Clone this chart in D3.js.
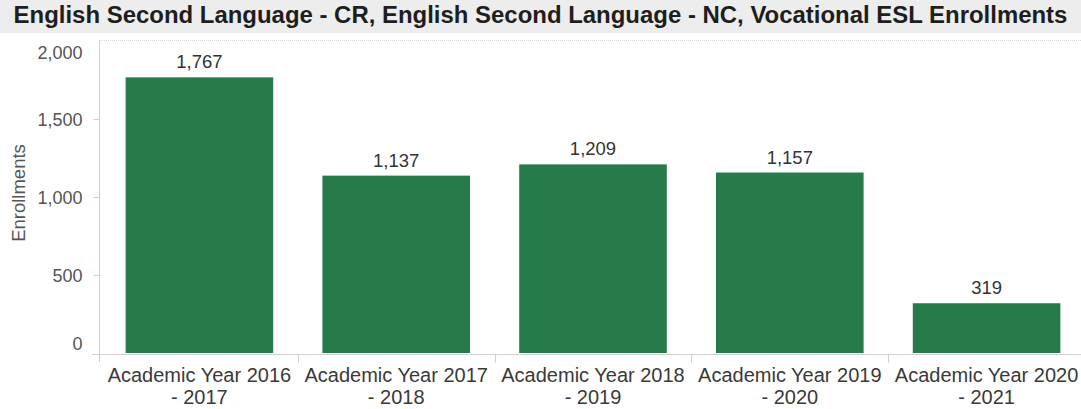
<!DOCTYPE html>
<html>
<head>
<meta charset="utf-8">
<script src="https://cdn.jsdelivr.net/npm/d3@7"></script>
<style>
  html, body { margin: 0; padding: 0; background: #fff; }
  svg { display: block; font-family: "Liberation Sans", Arial, sans-serif; }
</style>
</head>
<body>
<svg id="chart" width="1081" height="409"></svg>
<script>
// Enrollments per academic year
const chartTitle = "English Second Language - CR, English Second Language - NC, Vocational ESL Enrollments";
const years = [
  "Academic Year 2016 - 2017",
  "Academic Year 2017 - 2018",
  "Academic Year 2018 - 2019",
  "Academic Year 2019 - 2020",
  "Academic Year 2020 - 2021"
];
const enrollments = [1767, 1137, 1209, 1157, 319];
const yTicks = [0, 500, 1000, 1500, 2000];
const yAxisTitle = "Enrollments";

const W = 1081, H = 409;
const svg = d3.select("#chart");

// title band
svg.append("rect")
  .attr("x", 0).attr("y", 0).attr("width", W).attr("height", 33)
  .attr("fill", "#ededed");
const title = svg.append("text")
  .attr("x", W / 2).attr("y", 15)
  .attr("dy", "0.35em")
  .attr("text-anchor", "middle")
  .attr("font-weight", "bold")
  .attr("font-size", 20)
  .attr("fill", "#1e1e1e")
  .text(chartTitle);
// scale the title so it spans the band
const tw = title.node().getComputedTextLength();
title.attr("font-size", 20 * 1054 / tw);

const x = d3.scaleBand()
  .domain(years)
  .range([101, 1085])
  .paddingInner(0.25)
  .paddingOuter(0.125);

const y = d3.scaleLinear()
  .domain([0, 2000])
  .range([353, 41]);

// top border of the pane
svg.append("line")
  .attr("x1", 100).attr("x2", W)
  .attr("y1", 40.5).attr("y2", 40.5)
  .attr("stroke", "#d8d8d8")
  .attr("stroke-dasharray", "1,1");

// bars
svg.append("g")
  .selectAll("rect")
  .data(enrollments)
  .join("rect")
  .attr("x", (d, i) => x(years[i]))
  .attr("width", x.bandwidth())
  .attr("y", d => y(d))
  .attr("height", d => y(0) - y(d))
  .attr("fill", "#277a4a");

// value labels
svg.append("g")
  .selectAll("text")
  .data(enrollments)
  .join("text")
  .attr("x", (d, i) => x(years[i]) + x.bandwidth() / 2)
  .attr("y", d => y(d) - 9)
  .attr("text-anchor", "middle")
  .attr("font-size", 18.5)
  .attr("fill", "#333")
  .text(d => d3.format(",")(d));

// y axis
const yAxis = svg.append("g")
  .attr("transform", "translate(99.5,0)")
  .call(d3.axisLeft(y).tickValues(yTicks).tickFormat(d3.format(",")).tickSize(6).tickPadding(11));
yAxis.select(".domain").remove();
yAxis.selectAll(".tick line").attr("stroke", "#cfcfcf")
  .attr("display", d => (d === 2000 || d === 0) ? "none" : null);
yAxis.selectAll(".tick text")
  .attr("font-size", 18)
  .attr("font-family", "\"Liberation Sans\", Arial, sans-serif")
  .attr("fill", "#555")
  .attr("dy", d => d === 2000 ? "0.95em" : d === 0 ? "-0.22em" : "0.35em");

svg.append("line")
  .attr("x1", 99.5).attr("x2", 99.5)
  .attr("y1", 40).attr("y2", 362)
  .attr("stroke", "#cfcfcf");

// x axis
svg.append("line")
  .attr("x1", 92).attr("x2", W)
  .attr("y1", 354.5).attr("y2", 354.5)
  .attr("stroke", "#cfcfcf");

const xAxis = svg.append("g")
  .attr("transform", "translate(0,354.5)");
xAxis.selectAll("line.sep")
  .data(years.slice(1))
  .join("line")
  .attr("class", "sep")
  .attr("x1", d => Math.round(x(d) - x.step() * x.paddingInner() / 2) + 0.5)
  .attr("x2", d => Math.round(x(d) - x.step() * x.paddingInner() / 2) + 0.5)
  .attr("y1", 0).attr("y2", 8)
  .attr("stroke", "#cfcfcf");

const lbl = xAxis.selectAll("text")
  .data(years)
  .join("text")
  .attr("text-anchor", "middle")
  .attr("font-size", 20)
  .attr("fill", "#3a3a3a");
lbl.each(function (d) {
  const parts = d.split(" - ");
  const t = d3.select(this);
  const cx = x(d) + x.bandwidth() / 2;
  t.append("tspan").attr("x", cx).attr("y", 27).text(parts[0]);
  t.append("tspan").attr("x", cx).attr("y", 49).text("- " + parts[1]);
});

// y axis title
svg.append("text")
  .attr("transform", "translate(19,193) rotate(-90)")
  .attr("text-anchor", "middle")
  .attr("dy", "0.35em")
  .attr("font-size", 18.5)
  .attr("fill", "#555")
  .text(yAxisTitle);
</script>
</body>
</html>
